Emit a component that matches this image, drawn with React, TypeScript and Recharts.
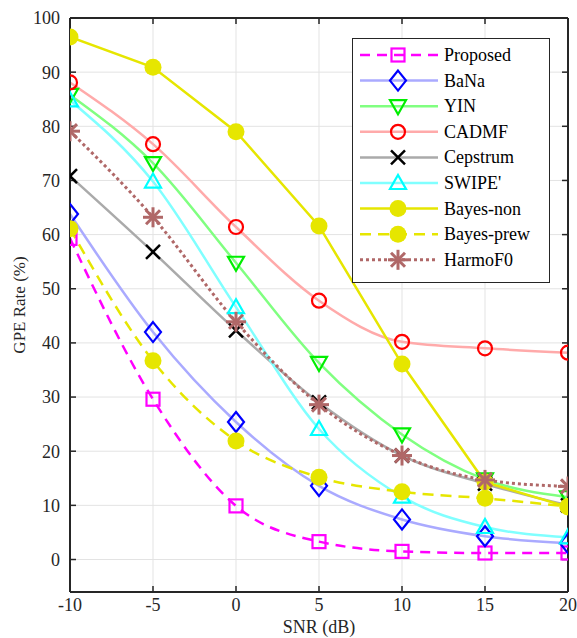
import { CartesianGrid, Line, LineChart, XAxis, YAxis } from "recharts";

const snr = [-10, -5, 0, 5, 10, 15, 20];
const proposed = [59.3, 29.6, 9.9, 3.3, 1.5, 1.2, 1.2];
const bana = [63.8, 42, 25.4, 13.6, 7.4, 4.3, 3];
const yin = [85.8, 73.2, 54.8, 36.3, 23.1, 14.8, 11.5];
const cadmf = [88.1, 76.7, 61.4, 47.8, 40.2, 39, 38.2];
const cepstrum = [70.8, 56.8, 42.3, 29, 19.2, 14, 10];
const swipe = [84.8, 69.8, 46.6, 24.1, 11.6, 6, 4.1];
const bayesNon = [96.5, 90.9, 79, 61.6, 36.1, 14.3, 9.7];
const bayesPrew = [61.1, 36.7, 21.9, 15.2, 12.5, 11.3, 9.8];
const harmo = [79.1, 63.2, 43.9, 28.6, 19.2, 14.7, 13.5];

const xTicks = [-10, -5, 0, 5, 10, 15, 20];
const yTicks = [0, 10, 20, 30, 40, 50, 60, 70, 80, 90, 100];

type Shape = "square" | "diamond" | "tdown" | "circle" | "x" | "tup" | "filled" | "star";

interface Series {
  key: string;
  name: string;
  values: number[];
  line: string;
  mark: string;
  shape: Shape;
  dash?: string;
  width: number;
  curve: "monotone" | "linear";
}

const SERIES: Series[] = [
  { key: "proposed", name: "Proposed", values: proposed, line: "#ff00ff", mark: "#ff00ff", shape: "square", dash: "10 7", width: 2.5, curve: "monotone" },
  { key: "bana", name: "BaNa", values: bana, line: "#aaaaff", mark: "#0000ff", shape: "diamond", width: 2.5, curve: "monotone" },
  { key: "yin", name: "YIN", values: yin, line: "#80ff80", mark: "#00ee00", shape: "tdown", width: 2.5, curve: "monotone" },
  { key: "cadmf", name: "CADMF", values: cadmf, line: "#ffaaaa", mark: "#ff0000", shape: "circle", width: 2.5, curve: "monotone" },
  { key: "cepstrum", name: "Cepstrum", values: cepstrum, line: "#aaaaaa", mark: "#000000", shape: "x", width: 2.5, curve: "monotone" },
  { key: "swipe", name: "SWIPE'", values: swipe, line: "#80ffff", mark: "#00ffff", shape: "tup", width: 2.5, curve: "monotone" },
  { key: "bayesNon", name: "Bayes-non", values: bayesNon, line: "#e6e600", mark: "#e6e600", shape: "filled", width: 2.5, curve: "linear" },
  { key: "bayesPrew", name: "Bayes-prew", values: bayesPrew, line: "#e6e600", mark: "#e6e600", shape: "filled", dash: "11 7", width: 2.5, curve: "monotone" },
  { key: "harmo", name: "HarmoF0", values: harmo, line: "#b06868", mark: "#b06868", shape: "star", dash: "3 3", width: 3, curve: "monotone" },
];

const data = snr.map((x, i) => {
  const row: Record<string, number> = { snr: x };
  SERIES.forEach((s) => (row[s.key] = s.values[i]));
  return row;
});

function Marker({ shape, x, y, color }: { shape: Shape; x: number; y: number; color: string }) {
  const sw = 2.2;
  switch (shape) {
    case "square":
      return <rect x={x - 6.5} y={y - 6.5} width={13} height={13} fill="none" stroke={color} strokeWidth={sw} />;
    case "diamond":
      return <polygon points={`${x},${y - 10} ${x + 8},${y} ${x},${y + 10} ${x - 8},${y}`} fill="none" stroke={color} strokeWidth={sw} />;
    case "tdown":
      return <polygon points={`${x - 8},${y - 6} ${x + 8},${y - 6} ${x},${y + 8}`} fill="none" stroke={color} strokeWidth={sw} />;
    case "tup":
      return <polygon points={`${x - 8},${y + 6} ${x + 8},${y + 6} ${x},${y - 8}`} fill="none" stroke={color} strokeWidth={sw} />;
    case "circle":
      return <circle cx={x} cy={y} r={7} fill="none" stroke={color} strokeWidth={sw} />;
    case "x":
      return (
        <g stroke={color} strokeWidth={2.5}>
          <line x1={x - 7} y1={y - 7} x2={x + 7} y2={y + 7} />
          <line x1={x - 7} y1={y + 7} x2={x + 7} y2={y - 7} />
        </g>
      );
    case "filled":
      return <circle cx={x} cy={y} r={8.5} fill={color} stroke="none" />;
    case "star":
      return (
        <g stroke={color} strokeWidth={3}>
          <line x1={x - 10} y1={y} x2={x + 10} y2={y} />
          <line x1={x} y1={y - 10} x2={x} y2={y + 10} />
          <line x1={x - 7} y1={y - 7} x2={x + 7} y2={y + 7} />
          <line x1={x - 7} y1={y + 7} x2={x + 7} y2={y - 7} />
        </g>
      );
  }
}

function LegendBox() {
  const rowH = 25.6;
  return (
    <svg width={198} height={245} style={{ display: "block" }}>
      <rect x={0.5} y={0.5} width={197} height={244} fill="#ffffff" stroke="#262626" strokeWidth={1} />
      {SERIES.map((s, i) => {
        const y = 17 + i * rowH;
        return (
          <g key={s.key}>
            <line x1={8} y1={y} x2={86} y2={y} stroke={s.line} strokeWidth={s.width} strokeDasharray={s.dash} />
            <Marker shape={s.shape} x={46} y={y} color={s.mark} />
            <text x={92} y={y + 6} fontSize={18} fontFamily="'Liberation Serif', serif" fill="#000">
              {s.name}
            </text>
          </g>
        );
      })}
    </svg>
  );
}

const font = { fontFamily: "'Liberation Serif', serif", fontSize: 18, fill: "#262626" };
const axisStroke = { stroke: "#262626", strokeWidth: 2 };
const tickStroke = { stroke: "#262626", strokeWidth: 1.5 };

export default function App() {
  return (
    <div style={{ position: "absolute", left: 0, top: 0, width: 577, height: 638, overflow: "hidden", background: "#fff" }}>
      <LineChart width={577} height={638} data={data} margin={{ top: 17, right: 0, bottom: 0, left: 0 }}>
        <CartesianGrid stroke="#e3e3e3" strokeWidth={1} />
        <XAxis
          dataKey="snr"
          type="number"
          domain={[-10, 20]}
          ticks={xTicks}
          allowDataOverflow
          height={46}
          tickSize={-6}
          tickMargin={12}
          tick={font}
          axisLine={axisStroke}
          tickLine={tickStroke}
          label={{ value: "SNR (dB)", position: "insideBottom", offset: 5, style: { ...font, fontSize: 18 } }}
        />
        <XAxis
          xAxisId="top"
          orientation="top"
          dataKey="snr"
          type="number"
          domain={[-10, 20]}
          ticks={xTicks}
          height={1}
          tickSize={-6}
          tick={() => <g />}
          axisLine={axisStroke}
          tickLine={tickStroke}
        />
        <YAxis
          type="number"
          domain={[-6, 100]}
          ticks={yTicks}
          allowDataOverflow
          width={70}
          tickSize={-6}
          tickMargin={16}
          tick={font}
          axisLine={axisStroke}
          tickLine={tickStroke}
          label={{ value: "GPE Rate (%)", angle: -90, position: "insideLeft", offset: 19, style: { ...font, fontSize: 17, textAnchor: "middle" } }}
        />
        <YAxis
          yAxisId="right"
          orientation="right"
          type="number"
          domain={[-6, 100]}
          ticks={yTicks}
          allowDataOverflow
          width={9}
          tickSize={-6}
          tick={() => <g />}
          axisLine={axisStroke}
          tickLine={tickStroke}
        />
        {SERIES.map((s) => (
          <Line
            key={s.key}
            dataKey={s.key}
            name={s.name}
            type={s.curve}
            stroke={s.line}
            strokeWidth={s.width}
            strokeDasharray={s.dash}
            isAnimationActive={false}
            dot={(p: any) => <Marker key={`${s.key}-${p.index}`} shape={s.shape} x={p.cx} y={p.cy} color={s.mark} />}
            activeDot={false}
          />
        ))}
      </LineChart>
      <div style={{ position: "absolute", left: 352, top: 38 }}>
        <LegendBox />
      </div>
    </div>
  );
}
